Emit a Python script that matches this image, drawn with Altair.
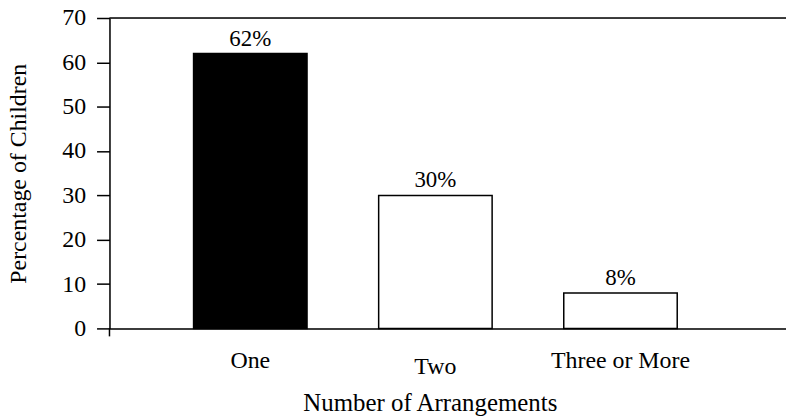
import altair as alt
import pandas as pd

categories = ["One", "Two", "Three or More"]
values = [62, 30, 8]
labels = ["62%", "30%", "8%"]
fills = ["black", "white", "white"]

df = pd.DataFrame({"cat": categories, "val": values, "lab": labels, "fill": fills})

FONT = "Liberation Serif"

xscale = alt.Scale(domain=categories, paddingInner=0.387, paddingOuter=0.521, align=0.436)
yscale = alt.Scale(domain=[0, 70], nice=False)

base = alt.Chart(df)

bars = base.mark_bar(stroke="black", strokeWidth=1.5).encode(
    x=alt.X("cat:N", scale=xscale, sort=categories,
            axis=alt.Axis(title="Number of Arrangements", labelAngle=0, ticks=False,
                          domain=True, domainColor="black", domainWidth=1.5,
                          labelFont=FONT, labelFontSize=24, labelColor="black",
                          labelPadding={"condition": {"test": "datum.value === 'Two'", "value": 26}, "value": 20},
                          titleFont=FONT, titleFontSize=25, titleFontWeight="normal",
                          titleColor="black", titlePadding=13, titleX=322)),
    y=alt.Y("val:Q", scale=yscale,
            axis=alt.Axis(title="Percentage of Children", values=[0, 10, 20, 30, 40, 50, 60, 70],
                          grid=False, tickSize=13, tickColor="black", tickWidth=1.5,
                          domainColor="black", domainWidth=1.5,
                          labelFont=FONT, labelFontSize=24, labelColor="black", labelPadding=11,
                          titleFont=FONT, titleFontSize=24, titleFontWeight="normal",
                          titleColor="black", titlePadding=31)),
    fill=alt.Fill("fill:N", scale=None),
)

text = base.mark_text(font=FONT, fontSize=23, color="black", baseline="bottom", dy=-3).encode(
    x=alt.X("cat:N", scale=xscale, sort=categories),
    y=alt.Y("val:Q", scale=yscale),
    text="lab:N",
)

top_line = alt.Chart(pd.DataFrame({"v": [70]})).mark_rule(color="black", strokeWidth=1.5).encode(
    y=alt.Y("v:Q", scale=yscale),
    x=alt.value(0),
    x2=alt.value(680),
)

axis_ext = alt.Chart(pd.DataFrame({"v": [0]})).mark_rule(color="black", strokeWidth=1.5).encode(
    x=alt.value(0),
    y=alt.value(312),
    y2=alt.value(320),
)

chart = alt.layer(bars, text, top_line, axis_ext).properties(
    width=680, height=312,
    autosize=alt.AutoSizeParams(type="none"),
    padding={"left": 102, "top": 9, "right": 0, "bottom": 90},
).configure_view(stroke=None).configure(background="white")

chart.save("out.html", embed_options={"renderer": "svg", "actions": False})
